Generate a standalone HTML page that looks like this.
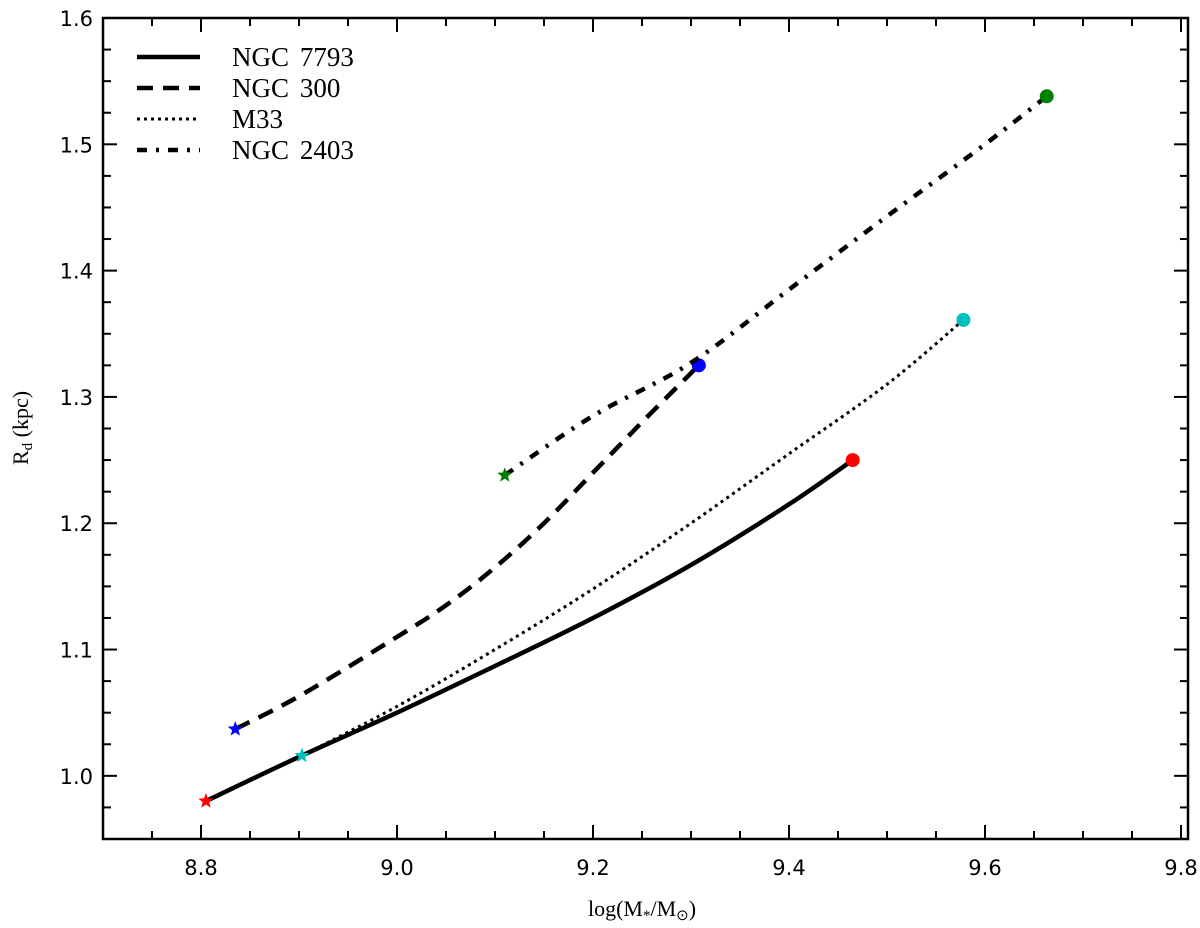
<!DOCTYPE html>
<html><head><meta charset="utf-8"><style>
body{margin:0;background:#fff}
svg{display:block}
.tk{font-family:"DejaVu Sans","Liberation Sans",sans-serif;font-size:21px}
.sr{font-family:"Liberation Serif",serif}
</style></head><body>
<svg id="chart" width="1200" height="928" xmlns="http://www.w3.org/2000/svg"></svg>
<script>
const xTicks=[8.8,9.0,9.2,9.4,9.6,9.8];
const yTicks=[1.0,1.1,1.2,1.3,1.4,1.5,1.6];
const seriesNames=["NGC\u2009\u20097793","NGC\u2009\u2009300","M33","NGC\u2009\u20092403"];
const ngc7793X=[8.805,8.9,9.0,9.1,9.2,9.3,9.4,9.465];
const ngc7793Y=[0.98,1.015,1.05,1.087,1.125,1.167,1.215,1.25];
const ngc300X=[8.835,8.9,9.0,9.05,9.1,9.15,9.2,9.25,9.308];
const ngc300Y=[1.037,1.063,1.11,1.135,1.165,1.2,1.24,1.28,1.325];
const m33X=[8.903,9.0,9.1,9.2,9.3,9.4,9.5,9.578];
const m33Y=[1.016,1.055,1.1,1.148,1.2,1.255,1.31,1.361];
const ngc2403X=[9.11,9.2,9.3,9.4,9.5,9.6,9.663];
const ngc2403Y=[1.238,1.285,1.327,1.385,1.443,1.5,1.538];

const NS="http://www.w3.org/2000/svg";
const svg=document.getElementById('chart');
const L=103,R=1188,T=18,B=839,x0=8.7,x1=8.7+(1188-103)/980,y0=0.95,y1=1.6;
const X=v=>L+(v-x0)/(x1-x0)*(R-L);
const Y=v=>B-(v-y0)/(y1-y0)*(B-T);
function mk(tag,at,parent){const e=document.createElementNS(NS,tag);for(const k in at)e.setAttribute(k,at[k]);(parent||svg).appendChild(e);return e;}
const styles=[{d:"none",w:4.5},{d:"16,10",w:4.5},{d:"3,4",w:3},{d:"10,9,3,9",w:4.5}];
const colors=["#ff0000","#0000ff","#00bfbf","#008000"];
const xs=[ngc7793X,ngc300X,m33X,ngc2403X],ys=[ngc7793Y,ngc300Y,m33Y,ngc2403Y];
function star(cx,cy,r){let p=[];for(let i=0;i<10;i++){const a=-Math.PI/2+i*Math.PI/5,rr=i%2?r*0.42:r;p.push((cx+rr*Math.cos(a)).toFixed(1)+","+(cy+rr*Math.sin(a)).toFixed(1));}return p.join(" ");}
function smooth(pts){let d="M"+pts[0][0].toFixed(1)+","+pts[0][1].toFixed(1);
  for(let i=0;i<pts.length-1;i++){const p0=pts[Math.max(i-1,0)],p1=pts[i],p2=pts[i+1],p3=pts[Math.min(i+2,pts.length-1)];
    const c1=[p1[0]+(p2[0]-p0[0])/6,p1[1]+(p2[1]-p0[1])/6],c2=[p2[0]-(p3[0]-p1[0])/6,p2[1]-(p3[1]-p1[1])/6];
    d+="C"+c1.map(v=>v.toFixed(1)).join(",")+" "+c2.map(v=>v.toFixed(1)).join(",")+" "+p2.map(v=>v.toFixed(1)).join(",");}
  return d;}
for(let s=0;s<4;s++){
  const pts=xs[s].map((v,i)=>[X(v),Y(ys[s][i])]);
  const p=mk('path',{d:smooth(pts),fill:"none",stroke:"#000","stroke-width":styles[s].w,"stroke-dasharray":styles[s].d});
  
  
  const n=xs[s].length-1;
  const st=mk('polygon',{points:star(X(xs[s][0]),Y(ys[s][0]),8),fill:colors[s]});
  
  
  const c=mk('circle',{cx:X(xs[s][n]),cy:Y(ys[s][n]),r:7,fill:colors[s]});
  
  
}
const fr=mk('rect',{x:L,y:T,width:R-L,height:B-T,fill:"none",stroke:"#000","stroke-width":2.5});


for(let k=0;k<=22;k++){const v=8.7+k*0.05;const major=(k%4===2);const len=major?14:8;const x=X(v);
  mk('line',{x1:x,x2:x,y1:B,y2:B-len,stroke:"#000","stroke-width":2});mk('line',{x1:x,x2:x,y1:T,y2:T+len,stroke:"#000","stroke-width":2});}
for(let k=0;k<=26;k++){const v=0.95+k*0.025;const major=(k%4===2);const len=major?14:8;const y=Y(v);
  mk('line',{x1:L,x2:L+len,y1:y,y2:y,stroke:"#000","stroke-width":2});mk('line',{x1:R,x2:R-len,y1:y,y2:y,stroke:"#000","stroke-width":2});}
xTicks.forEach(v=>{const t=mk('text',{x:X(v),y:B+36,"text-anchor":"middle",class:"tk"});t.textContent=v.toFixed(1);
  
  });
yTicks.forEach(v=>{const t=mk('text',{x:L-10,y:Y(v)+8,"text-anchor":"end",class:"tk"});t.textContent=v.toFixed(1);
  
  });
const lg=mk('g',{});


seriesNames.forEach((nm,i)=>{const y=57+i*31;
  mk('line',{x1:137,x2:200,y1:y,y2:y,stroke:"#000","stroke-width":styles[i].w,"stroke-dasharray":styles[i].d},lg);
  const t=mk('text',{x:232,y:y+9,class:"sr","font-size":27},lg);t.textContent=nm;
  
  });
</script>
<div style="position:absolute;left:0;top:0;width:1200px;height:928px;pointer-events:none">
<svg width="1200" height="928" xmlns="http://www.w3.org/2000/svg">
<text x="642" y="916" text-anchor="middle" class="sr" font-size="22">log(M<tspan font-size="15" dy="4">*</tspan><tspan dy="-4">/M</tspan><tspan font-size="15" dy="4">⊙</tspan><tspan dy="-4">)</tspan></text>
<text transform="translate(28,428) rotate(-90)" text-anchor="middle" class="sr" font-size="22">R<tspan font-size="15" dy="4">d</tspan><tspan dy="-4"> (kpc)</tspan></text>
</svg></div>
</body></html>
